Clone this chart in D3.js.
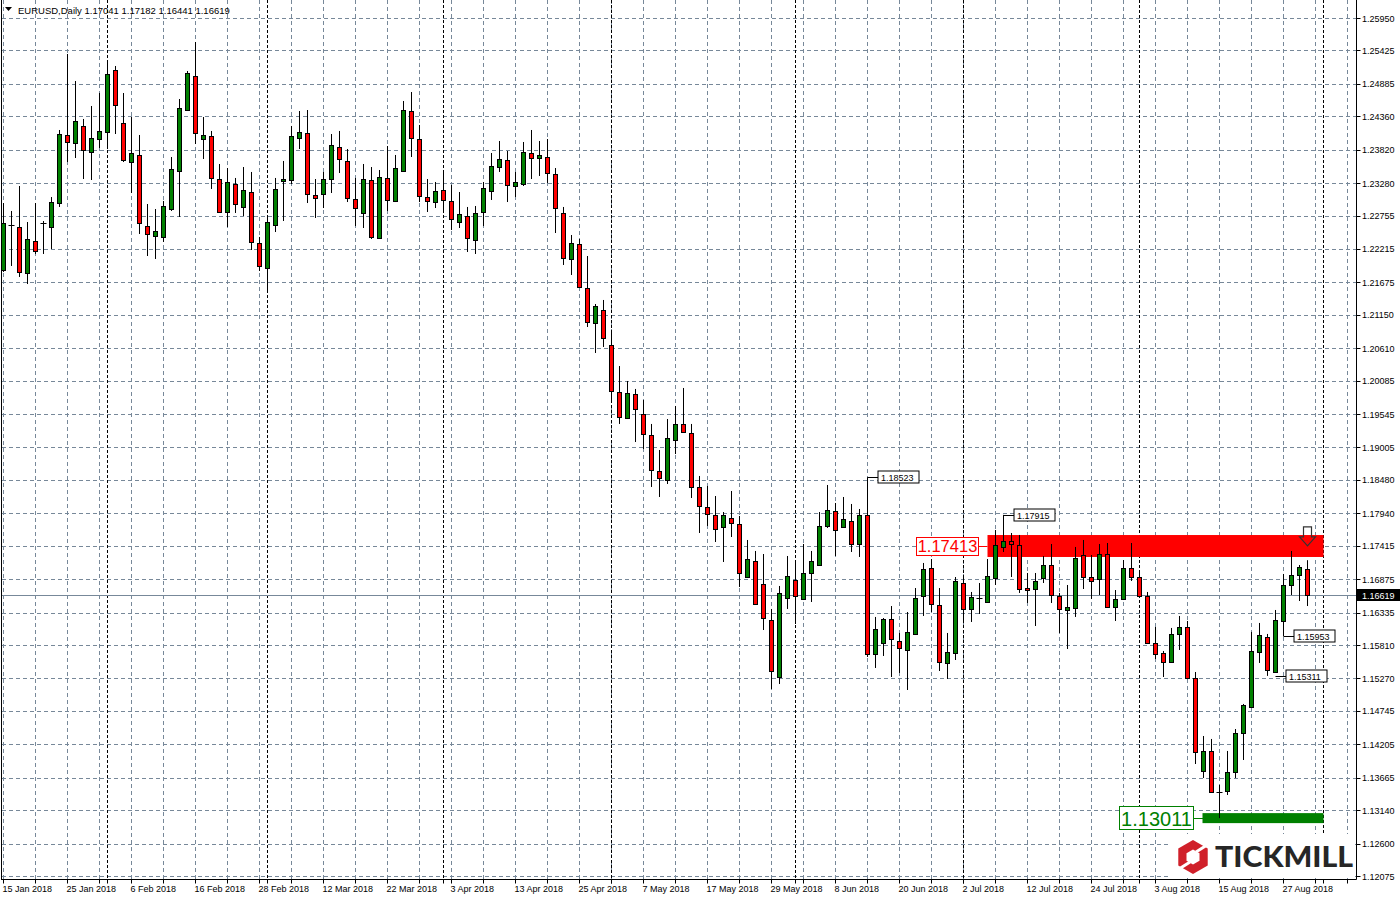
<!DOCTYPE html>
<html><head><meta charset="utf-8">
<script src="https://cdn.jsdelivr.net/npm/d3@7"></script>
<style>
body{margin:0;background:#fff;}
svg{display:block;font-family:"Liberation Sans",Arial,sans-serif;}
</style>
</head><body>
<svg id="chart" width="1400" height="900"></svg>
<script>
// ---------------- DATA ----------------
const symbol = "EURUSD,Daily";
const firstDay = "2018-01-15";
const openP = [1.21875,1.22603,1.22570,1.21826,1.22344,1.22619,1.22570,1.22958,1.24058,1.23929,
1.24204,1.23783,1.23993,1.24106,1.25109,1.24252,1.23621,1.23735,1.22586,1.22425,
1.22409,1.22861,1.23476,1.24462,1.25012,1.23993,1.24042,1.23346,1.22813,1.23266,
1.22894,1.23136,1.22311,1.21907,1.22603,1.23314,1.23330,1.24009,1.24090,1.23088,
1.23104,1.23346,1.23864,1.23638,1.23023,1.22797,1.23330,1.22392,1.23363,1.22991,
1.23476,1.24446,1.23993,1.23055,1.22974,1.23169,1.22991,1.22651,1.22748,1.22360,
1.22813,1.23152,1.23540,1.23654,1.23233,1.23266,1.23767,1.23686,1.23702,1.23427,
1.22797,1.22053,1.22295,1.21584,1.21018,1.21228,1.20662,1.19902,1.19482,1.19870,
1.19546,1.19207,1.18625,1.18479,1.19126,1.19385,1.19239,1.18366,1.18042,1.17913,
1.17719,1.17864,1.17767,1.16910,1.17169,1.16797,1.16215,1.15293,1.16571,1.16862,
1.16555,1.16975,1.17104,1.17735,1.17978,1.17719,1.17816,1.17444,1.17913,1.15665,
1.15843,1.16231,1.15875,1.15730,1.15989,1.16603,1.17056,1.16458,1.15520,1.15681,
1.16813,1.16393,1.16571,1.16506,1.16894,1.17396,1.17493,1.17428,1.16732,1.16716,
1.16894,1.17104,1.16603,1.16377,1.16409,1.17266,1.16910,1.16878,1.17282,1.16425,
1.16555,1.17056,1.16910,1.16603,1.15843,1.15681,1.15536,1.15989,1.16102,1.15277,
1.13773,1.14097,1.13434,1.13450,1.13757,1.14388,1.14808,1.15698,1.15940,1.15374,
1.16199,1.16781,1.16943,1.17041];
const highP = [1.22958,1.22829,1.23233,1.22651,1.22958,1.22667,1.23055,1.24139,1.25368,1.24931,
1.24317,1.24527,1.24737,1.25238,1.25174,1.24737,1.24349,1.24058,1.22942,1.22861,
1.22991,1.23702,1.24640,1.25093,1.25562,1.24349,1.24123,1.23589,1.23524,1.23363,
1.23540,1.23460,1.22409,1.22732,1.23363,1.23638,1.24204,1.24446,1.24462,1.23346,
1.23460,1.24074,1.24123,1.23831,1.23363,1.23589,1.23540,1.23492,1.23880,1.23735,
1.24608,1.24753,1.24220,1.23346,1.23298,1.23492,1.23249,1.23136,1.22894,1.22910,
1.23298,1.23767,1.23961,1.23799,1.23460,1.23945,1.24139,1.23961,1.23993,1.23524,
1.22894,1.22441,1.22376,1.22101,1.21325,1.21390,1.20872,1.20322,1.20080,1.19951,
1.19773,1.19385,1.18964,1.19465,1.19676,1.19967,1.19385,1.18544,1.18382,1.18220,
1.17961,1.18301,1.17897,1.17509,1.17331,1.17282,1.16393,1.16765,1.17250,1.17185,
1.17444,1.17331,1.17961,1.18398,1.18107,1.18204,1.18091,1.18010,1.18523,1.16264,
1.16247,1.16441,1.16005,1.16344,1.16732,1.17137,1.17201,1.16732,1.16005,1.16910,
1.16894,1.16668,1.16813,1.17201,1.17670,1.17915,1.17622,1.17590,1.16975,1.16975,
1.17250,1.17444,1.16652,1.16781,1.17396,1.17509,1.17266,1.17444,1.17460,1.16700,
1.17185,1.17460,1.17007,1.16668,1.16102,1.15714,1.16086,1.16280,1.16199,1.15374,
1.14339,1.14291,1.13547,1.14097,1.14452,1.14857,1.16021,1.16167,1.15989,1.16377,
1.16959,1.17331,1.17104,1.17182];
const lowP = [1.21843,1.21940,1.21762,1.21648,1.22134,1.22134,1.22214,1.22894,1.23621,1.23686,
1.23346,1.23330,1.23848,1.23831,1.24074,1.23621,1.23120,1.22457,1.22101,1.22053,
1.22328,1.22829,1.22732,1.24446,1.23912,1.23670,1.23185,1.22797,1.22570,1.22797,
1.22748,1.22198,1.21859,1.21519,1.22489,1.22667,1.23266,1.23831,1.22958,1.22716,
1.22877,1.23120,1.23443,1.22974,1.22586,1.22554,1.22376,1.22376,1.22829,1.22974,
1.23460,1.23702,1.22974,1.22813,1.22877,1.22797,1.22522,1.22554,1.22166,1.22134,
1.22586,1.23007,1.23460,1.22974,1.23055,1.23233,1.23346,1.23395,1.23282,1.22473,
1.21956,1.21794,1.21584,1.20953,1.20533,1.20630,1.19773,1.19385,1.19465,1.19093,
1.18980,1.18366,1.18204,1.18414,1.18899,1.19239,1.18188,1.17622,1.17735,1.17476,
1.17153,1.17557,1.16749,1.16894,1.16458,1.16053,1.15099,1.15180,1.16393,1.16150,
1.16538,1.16506,1.17088,1.17703,1.17250,1.17703,1.17315,1.17234,1.15617,1.15439,
1.15633,1.15293,1.15358,1.15083,1.15972,1.16280,1.16344,1.15390,1.15261,1.15568,
1.16167,1.16183,1.16312,1.16490,1.16781,1.17315,1.16910,1.16652,1.16490,1.16118,
1.16813,1.16490,1.16005,1.15746,1.16264,1.16716,1.16555,1.16619,1.16409,1.16199,
1.16538,1.16846,1.16587,1.15827,1.15584,1.15293,1.15520,1.15730,1.15261,1.13886,
1.13660,1.13417,1.13011,1.13385,1.13660,1.13951,1.14792,1.15520,1.15311,1.15358,
1.15953,1.16619,1.16522,1.16441];
const closeP = [1.22635,1.22610,1.21843,1.22376,1.22182,1.22635,1.22974,1.24074,1.23945,1.24284,
1.23815,1.24009,1.24123,1.25044,1.24543,1.23654,1.23767,1.22635,1.22457,1.22506,
1.22910,1.23508,1.24495,1.25061,1.24090,1.24058,1.23363,1.22813,1.23298,1.22942,
1.23169,1.22328,1.21940,1.22651,1.23185,1.23346,1.24042,1.24106,1.23104,1.23039,
1.23346,1.23896,1.23670,1.23039,1.22877,1.23346,1.22409,1.23379,1.23007,1.23524,
1.24462,1.24009,1.23072,1.22991,1.23152,1.23007,1.22700,1.22780,1.22392,1.22797,
1.23201,1.23557,1.23670,1.23249,1.23298,1.23783,1.23686,1.23735,1.23443,1.22877,
1.22069,1.22311,1.21600,1.21034,1.21293,1.20775,1.19918,1.19498,1.19886,1.19627,
1.19223,1.18641,1.18511,1.19158,1.19385,1.19255,1.18366,1.18058,1.17929,1.17687,
1.17913,1.17784,1.16975,1.17201,1.16474,1.16247,1.15390,1.16652,1.16927,1.16603,
1.16975,1.17169,1.17735,1.17994,1.17670,1.17848,1.17444,1.17913,1.15665,1.16069,
1.16231,1.15908,1.15762,1.16021,1.16571,1.17040,1.16474,1.15536,1.15698,1.16846,
1.16393,1.16587,1.16575,1.16927,1.17428,1.17493,1.17444,1.16716,1.16700,1.16846,
1.17104,1.16619,1.16393,1.16425,1.17218,1.16910,1.16846,1.17282,1.16425,1.16555,
1.17056,1.16910,1.16603,1.15843,1.15665,1.15536,1.15989,1.16102,1.15277,1.14080,
1.14097,1.13434,1.13440,1.13757,1.14388,1.14840,1.15714,1.15972,1.15406,1.16215,
1.16781,1.16943,1.17072,1.16619];
const priceTicks = [1.25950,1.25425,1.24885,1.24360,1.23820,1.23280,1.22755,1.22215,1.21675,
1.21150,1.20610,1.20085,1.19545,1.19005,1.18480,1.17940,1.17415,1.16875,1.16335,1.15810,
1.15270,1.14745,1.14205,1.13665,1.13140,1.12600,1.12075];
const currentPrice = 1.16619;
const resistanceZone = [1.17234, 1.17589];
const resistanceLevel = 1.17413;
const supportLevel = 1.13011;
const zoneStartIdx = 123, supportStartIdx = 150, zonesEndIdx = 165, arrowIdx = 163;
const priceLabelIdx = [108, 125, 160, 159];
const priceLabelVal = [1.18523, 1.17915, 1.15953, 1.15311];

// ---------------- BUILD ----------------
const svg = d3.select("#chart");
const nDays = 166;
const days = [];
for (let d = new Date(firstDay + "T00:00:00"); days.length < nDays; d.setDate(d.getDate() + 1)) {
  const wd = d.getDay();
  if (wd !== 0 && wd !== 6) days.push(new Date(d));
}
const x = d3.scaleLinear().domain([0, 165]).range([3.5, 1323.5]);
const y = d3.scaleLinear().domain([1.12075, 1.25950]).range([876, 18]);
const fmt = d3.format(".5f");
const dfmt = d3.timeFormat("%-d %b %Y");
const plotR = 1356.5, plotB = 879.5;
const GRID = "#778899";

const gGrid = svg.append("g");
// horizontal grid
gGrid.selectAll("line.h").data(priceTicks).join("line")
  .attr("x1", 2).attr("x2", plotR)
  .attr("y1", d => Math.round(y(d)) + 0.5).attr("y2", d => Math.round(y(d)) + 0.5)
  .attr("stroke", GRID).attr("stroke-dasharray", "4,3");
// vertical grid every 4 bars
const vIdx = d3.range(0, 172, 4).filter(i => x(i) < plotR - 2);
gGrid.selectAll("line.v").data(vIdx).join("line")
  .attr("x1", d => x(d)).attr("x2", d => x(d)).attr("y1", 0).attr("y2", plotB)
  .attr("stroke", GRID).attr("stroke-dasharray", "4,3");
// month separators
const sepIdx = d3.range(1, nDays).filter(i => days[i].getMonth() !== days[i - 1].getMonth());
gGrid.selectAll("line.s").data(sepIdx).join("line")
  .attr("x1", d => x(d)).attr("x2", d => x(d)).attr("y1", 0).attr("y2", plotB)
  .attr("stroke", "#000").attr("stroke-dasharray", "3,2");

// current price line
const cpY = Math.round(y(currentPrice)) + 0.5;
svg.append("line").attr("x1", 2).attr("x2", plotR).attr("y1", cpY).attr("y2", cpY).attr("stroke", GRID);

// resistance zone
svg.append("rect").attr("x", x(zoneStartIdx)).attr("width", x(zonesEndIdx) - x(zoneStartIdx))
  .attr("y", y(resistanceZone[1])).attr("height", y(resistanceZone[0]) - y(resistanceZone[1]))
  .attr("fill", "#ff0000");
// support line
svg.append("rect").attr("x", x(supportStartIdx) - 1).attr("width", x(zonesEndIdx) - x(supportStartIdx) + 1)
  .attr("y", y(supportLevel) - 5).attr("height", 10).attr("fill", "#008000");

// candles
const idx = d3.range(openP.length);
const gC = svg.append("g");
gC.selectAll("line.w").data(idx).join("line")
  .attr("x1", i => x(i)).attr("x2", i => x(i))
  .attr("y1", i => y(highP[i])).attr("y2", i => y(lowP[i]))
  .attr("stroke", "#000").attr("stroke-width", 1);
idx.forEach(i => {
  const yo = y(openP[i]), yc = y(closeP[i]);
  if (Math.abs(yo - yc) < 1.5) {
    const yy = Math.round((yo + yc) / 2) + 0.5;
    gC.append("line").attr("x1", x(i) - 3).attr("x2", x(i) + 3).attr("y1", yy).attr("y2", yy)
      .attr("stroke", "#000").attr("stroke-width", 1);
  } else {
    const top = Math.round(Math.min(yo, yc)) + 0.5, bot = Math.round(Math.max(yo, yc)) + 0.5;
    gC.append("rect").attr("x", x(i) - 2).attr("width", 4).attr("y", top).attr("height", bot - top)
      .attr("fill", closeP[i] > openP[i] ? "#008000" : "#ff0000")
      .attr("stroke", "#000").attr("stroke-width", 1);
  }
});

// price labels on candles
const gL = svg.append("g");
priceLabelIdx.forEach((ix, k) => {
  const v = priceLabelVal[k];
  const yy = Math.round(y(v)) + 0.5;
  const x0 = x(ix), bx = x0 + 10.5;
  gL.append("line").attr("x1", x0).attr("x2", bx).attr("y1", yy).attr("y2", yy).attr("stroke", "#000");
  gL.append("rect").attr("x", bx).attr("y", yy - 6.5).attr("width", 41).attr("height", 12)
    .attr("fill", "#fff").attr("stroke", "#000");
  gL.append("text").attr("x", bx + 3).attr("y", yy + 3.5).attr("font-size", 9).attr("fill", "#000").text(fmt(v));
});

// resistance label
const rY = y(resistanceLevel);
svg.append("line").attr("x1", 978).attr("x2", x(zoneStartIdx)).attr("y1", Math.round(rY) + 0.5).attr("y2", Math.round(rY) + 0.5).attr("stroke", "#ff0000");
svg.append("rect").attr("x", 916.5).attr("y", Math.round(rY) - 8.5).attr("width", 62).attr("height", 18)
  .attr("fill", "#fff").attr("stroke", "#ff0000");
svg.append("text").attr("x", 947.5).attr("y", rY + 6).attr("text-anchor", "middle")
  .attr("font-size", 16.5).attr("fill", "#ff0000").text(fmt(resistanceLevel));

// support label
const sY = y(supportLevel);
svg.append("line").attr("x1", 1193).attr("x2", x(supportStartIdx)).attr("y1", Math.round(sY) + 0.5).attr("y2", Math.round(sY) + 0.5).attr("stroke", "#008000");
svg.append("rect").attr("x", 1119.5).attr("y", Math.round(sY) - 11.5).attr("width", 74).attr("height", 23)
  .attr("fill", "#fff").attr("stroke", "#008000");
svg.append("text").attr("x", 1156.5).attr("y", sY + 7.5).attr("text-anchor", "middle")
  .attr("font-size", 20).attr("fill", "#008000").text(fmt(supportLevel));

// arrow
const ax = x(arrowIdx), ay = y(resistanceLevel);
svg.append("path")
  .attr("d", `M${ax},${ay} L${ax - 8},${ay - 9} L${ax - 4},${ay - 9} L${ax - 4},${ay - 19} L${ax + 4},${ay - 19} L${ax + 4},${ay - 9} L${ax + 8},${ay - 9} Z`)
  .attr("fill", "none").attr("stroke", "#333").attr("stroke-width", 1.2);

// frame
svg.append("line").attr("x1", 1.5).attr("x2", 1.5).attr("y1", 0).attr("y2", plotB).attr("stroke", "#000");
svg.append("line").attr("x1", plotR).attr("x2", plotR).attr("y1", 0).attr("y2", plotB).attr("stroke", "#000");
svg.append("line").attr("x1", 1).attr("x2", plotR).attr("y1", plotB).attr("y2", plotB).attr("stroke", "#000");

// right axis
const gY = svg.append("g");
gY.selectAll("line").data(priceTicks).join("line")
  .attr("x1", plotR).attr("x2", plotR + 4)
  .attr("y1", d => Math.round(y(d)) + 0.5).attr("y2", d => Math.round(y(d)) + 0.5).attr("stroke", "#000");
gY.selectAll("text").data(priceTicks).join("text")
  .attr("x", 1362).attr("y", d => y(d) + 3.5).attr("font-size", 9).attr("fill", "#000").text(d => fmt(d));
// current price tag
svg.append("rect").attr("x", 1357).attr("y", cpY - 6.5).attr("width", 43).attr("height", 12).attr("fill", "#000");
svg.append("text").attr("x", 1362).attr("y", cpY + 3.5).attr("font-size", 9).attr("fill", "#fff").text(fmt(currentPrice));

// bottom axis
const lblIdx = d3.range(0, openP.length, 8);
const gX = svg.append("g");
gX.selectAll("line.t").data(vIdx.concat(sepIdx)).join("line")
  .attr("x1", d => x(d)).attr("x2", d => x(d)).attr("y1", plotB).attr("y2", plotB + 4).attr("stroke", "#000");
gX.selectAll("text").data(lblIdx).join("text")
  .attr("x", d => x(d) - 1).attr("y", 892).attr("font-size", 9).attr("fill", "#000").text(d => dfmt(days[d]));

// header
svg.append("path").attr("d", "M5,7 L12,7 L8.5,11 Z").attr("fill", "#000");
svg.append("text").attr("x", 18).attr("y", 14).attr("font-size", 9.5).attr("fill", "#000")
  .text(`${symbol}  ${fmt(openP[openP.length-1])} ${fmt(highP[highP.length-1])} ${fmt(lowP[lowP.length-1])} ${fmt(closeP[closeP.length-1])}`);

// logo
const gLogo = svg.append("g");
gLogo.append("rect").attr("x", 1170).attr("y", 834).attr("width", 185).attr("height", 44).attr("fill", "#fff");
const hc = [1193, 857], R = 17;
const hex = (r) => d3.range(6).map(k => { const a = Math.PI / 180 * (60 * k - 90); return [hc[0] + r * Math.cos(a), hc[1] + r * Math.sin(a)]; });
gLogo.append("path").attr("d", "M" + hex(R).join("L") + "Z").attr("fill", "#d0202a");
gLogo.append("path").attr("d", "M" + hex(7.5).join("L") + "Z").attr("fill", "#fff");
gLogo.append("line").attr("x1", hc[0] + 3).attr("y1", hc[1] - 5).attr("x2", hc[0] + 14).attr("y2", hc[1] - 12).attr("stroke", "#fff").attr("stroke-width", 3);
gLogo.append("line").attr("x1", hc[0] - 3).attr("y1", hc[1] + 5).attr("x2", hc[0] - 14).attr("y2", hc[1] + 12).attr("stroke", "#fff").attr("stroke-width", 3);
gLogo.append("text").attr("x", 1215).attr("y", 867).attr("font-size", 29).attr("font-weight", 900)
  .attr("font-family", "Lato, 'Open Sans', sans-serif").attr("fill", "#262626")
  .attr("textLength", 138).attr("lengthAdjust", "spacingAndGlyphs").text("TICKMILL");
</script>
</body></html>
